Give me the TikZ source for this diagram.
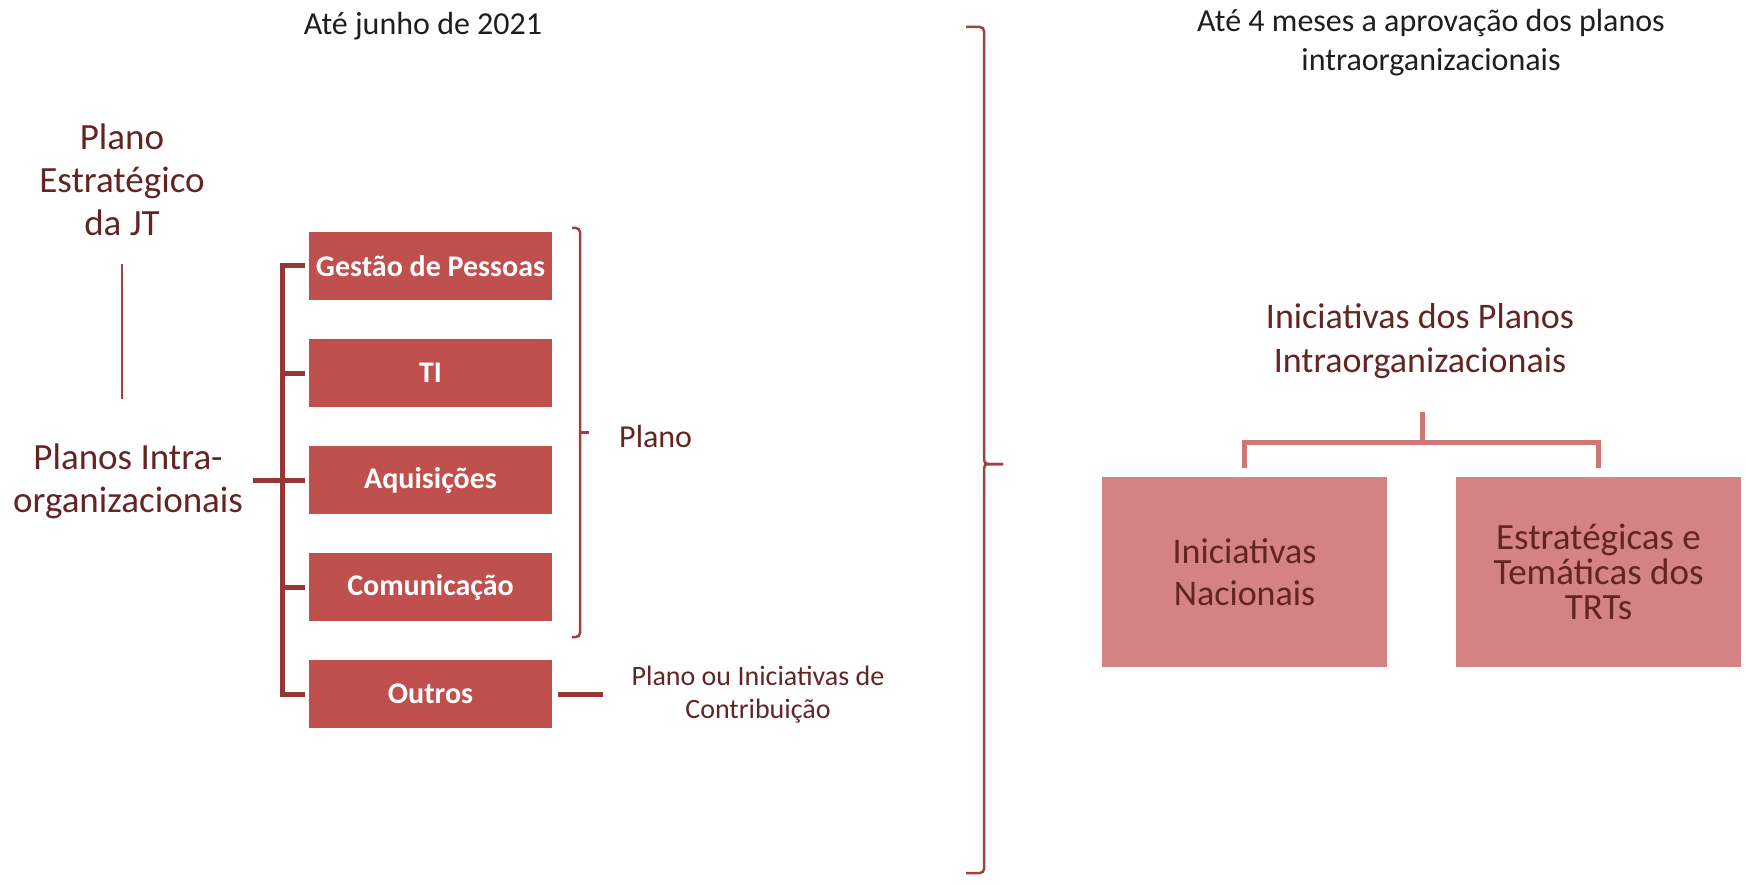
\documentclass[tikz,border=0pt]{standalone}
\usepackage{fontspec}
\setmainfont{Carlito}
\usetikzlibrary{positioning}
\definecolor{boxred}{HTML}{C0504D}
\definecolor{boxpink}{HTML}{D48283}
\definecolor{maroon}{HTML}{632523}
\definecolor{trunkred}{HTML}{953735}
\definecolor{treepink}{HTML}{CF7677}
\definecolor{bracered}{HTML}{A04040}
\definecolor{ink}{HTML}{1E1E1E}
\begin{document}
\begin{tikzpicture}[x=1pt,y=-1pt,
    lbl/.style={inner sep=0pt, align=center, text=maroon, font=\fontsize{37}{43}\selectfont},
    head/.style={inner sep=0pt, align=center, text=ink, font=\fontsize{32}{39}\selectfont},
    redbox/.style={fill=boxred, text=white, inner sep=0pt, minimum width=243pt, minimum height=68pt,
      font=\fontsize{30}{36}\selectfont\bfseries},
    pinkbox/.style={fill=boxpink, text=maroon, inner sep=0pt, align=center, minimum width=285pt,
      minimum height=190pt, font=\fontsize{36}{42}\selectfont},
    trunk/.style={draw=trunkred, line width=5pt},
    tree/.style={draw=treepink, line width=5pt},
    brk/.style={draw=bracered, line width=2.5pt, rounded corners=4pt},
    thinln/.style={draw=bracered, line width=2pt}]
  \useasboundingbox (0,0) rectangle (1746,885);

  % titulos
  \node[head] (junho) at (423,26) {Até junho de 2021};
  \node[head] (meses) at (1431,43) {Até 4 meses a aprovação dos planos\\intraorganizacionais};

  % lado esquerdo
  \node[lbl] (pe) at (122,180) {Plano\\Estratégico\\da JT};
  \node[lbl] (pi) at (128,481) {Planos Intra-\\organizacionais};
  \draw[thinln, shorten <=28pt, shorten >=44pt] (pe.south) -- (pe.south |- pi.north);

  \foreach \name/\txt [count=\i from 0] in {gp/Gestão de Pessoas, ti/TI, aq/Aquisições, co/Comunicação, ou/Outros}
    \node[redbox] (\name) at (430.5,{266+107*\i}) {\txt};

  \draw[trunk] ([xshift=-4pt]gp.west) -| ([xshift=-26pt]ou.west) -- ([xshift=-4pt]ou.west);
  \foreach \b in {ti,co}
    \draw[trunk] ([xshift=-26pt]\b.west) -- ([xshift=-4pt]\b.west);
  \draw[trunk, shorten <=10pt] (pi.east |- aq.west) -- ([xshift=-4pt]aq.west);

  % chave do plano
  \draw[brk] (572,228) -- (580,228) -- (580,637) -- (572,637);
  \draw[brk] (580,432.5) -- (589,432.5);
  \node[lbl, font=\fontsize{32}{39}\selectfont, anchor=west] (plano) at (619,437) {Plano};

  \node[lbl, font=\fontsize{28}{33}\selectfont] (pc) at (758,695) {Plano ou Iniciativas de\\Contribuição};
  \draw[trunk, shorten <=6pt, shorten >=28pt] (ou.east) -- (ou.east -| pc.west);

  % chave grande
  \draw[brk] (966,27) -- (984,27) -- (984,464) -- (1003,464);
  \draw[brk] (1003,464) -- (984,464) -- (984,873) -- (966,873);

  % lado direito
  \node[lbl, font=\fontsize{36}{44}\selectfont] (ipi) at (1420,341) {Iniciativas dos Planos\\Intraorganizacionais};
  \node[pinkbox] (nac) at (1244.5,572) {Iniciativas\\Nacionais};
  \node[pinkbox, font=\fontsize{37}{35}\selectfont] (est) at (1598.5,572) {Estratégicas e\\Temáticas dos\\TRTs};

  \coordinate (hub) at (1422,442);
  \coordinate (stem) at (1422,412);
  \draw[tree] (stem) -- (hub);
  \draw[tree] ([yshift=9pt]nac.north) |- (hub) -| ([yshift=9pt]est.north);
\end{tikzpicture}
\end{document}
